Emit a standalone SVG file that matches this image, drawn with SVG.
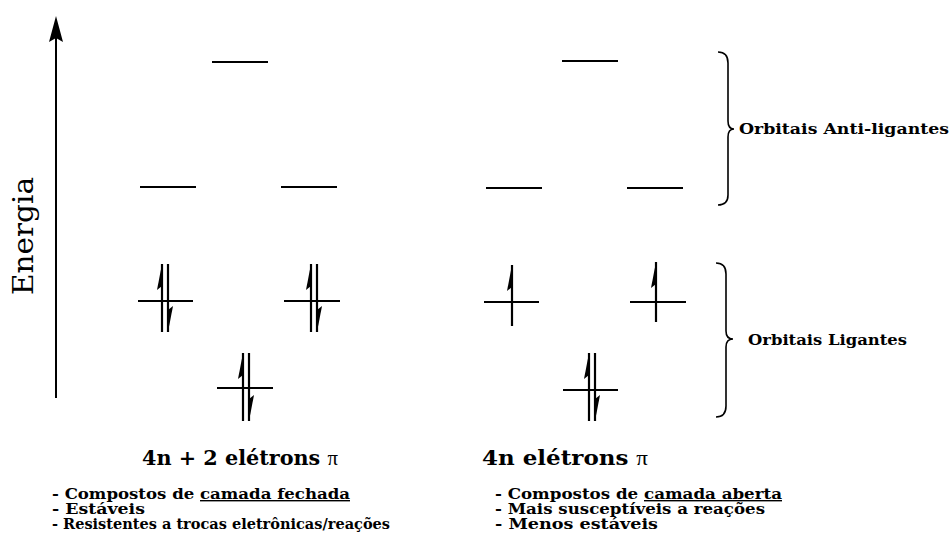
<svg xmlns="http://www.w3.org/2000/svg" width="951" height="543" viewBox="0 0 951 543">
<style>
.lvl{stroke:#000;stroke-width:2;fill:none}
.e{stroke:#000;stroke-width:2.2;fill:none}
.barb{fill:#000;stroke:none}
.brace{stroke:#000;stroke-width:1.6;fill:none}
.axis{stroke:#000;stroke-width:2;fill:none}
.lbl{font-family:"DejaVu Serif","Liberation Serif",serif;font-weight:bold;fill:#000}
.hdr{font-family:"DejaVu Serif","Liberation Serif",serif;font-weight:bold;font-size:20px;fill:#000}
.pi{font-family:"Liberation Serif",serif;font-weight:normal}
.bul{font-family:"DejaVu Serif","Liberation Serif",serif;font-weight:bold;font-size:14px;fill:#000}
.u{text-decoration:underline}
</style>
<defs>
<marker id="arr" markerWidth="28" markerHeight="16" refX="24" refY="8" orient="auto" markerUnits="userSpaceOnUse" viewBox="0 0 28 16">
<path d="M28,8 L2,1 L6,8 L2,15 Z" fill="#000"/>
</marker>
<path id="up" d="M0,0 L-5,26 L0,22 Z"/>
<path id="dn" d="M0,0 L5,-26 L0,-22 Z"/>
</defs>

<g id="axis">
<line class="axis" x1="56" y1="398" x2="56" y2="20" marker-end="url(#arr)"/>
<text transform="translate(33,236) rotate(-90)" text-anchor="middle" font-family="DejaVu Serif, Liberation Serif, serif" font-size="27" textLength="118" lengthAdjust="spacingAndGlyphs">Energia</text>
</g>

<g id="left-antibonding">
<line class="lvl" x1="212" y1="62" x2="268" y2="62"/>
<line class="lvl" x1="140" y1="187" x2="196" y2="187"/>
<line class="lvl" x1="281" y1="187" x2="337" y2="187"/>
</g>

<g id="left-bonding-1">
<line class="lvl" x1="138" y1="301" x2="193" y2="301"/>
<line class="e" x1="162" y1="264" x2="162" y2="332"/>
<line class="e" x1="168" y1="264" x2="168" y2="332"/>
<use href="#up" class="barb" x="162" y="264"/>
<use href="#dn" class="barb" x="168" y="332"/>
</g>
<g id="left-bonding-2">
<line class="lvl" x1="284" y1="301" x2="340" y2="301"/>
<line class="e" x1="311" y1="264" x2="311" y2="332"/>
<line class="e" x1="317" y1="264" x2="317" y2="332"/>
<use href="#up" class="barb" x="311" y="264"/>
<use href="#dn" class="barb" x="317" y="332"/>
</g>
<g id="left-bonding-3">
<line class="lvl" x1="217" y1="388" x2="273" y2="388"/>
<line class="e" x1="243" y1="353" x2="243" y2="421"/>
<line class="e" x1="249" y1="353" x2="249" y2="421"/>
<use href="#up" class="barb" x="243" y="353"/>
<use href="#dn" class="barb" x="249" y="421"/>
</g>

<g id="right-antibonding">
<line class="lvl" x1="562" y1="61" x2="618" y2="61"/>
<line class="lvl" x1="486" y1="188" x2="542" y2="188"/>
<line class="lvl" x1="627" y1="188" x2="683" y2="188"/>
</g>

<g id="right-bonding-1">
<line class="lvl" x1="484" y1="302" x2="539" y2="302"/>
<line class="e" x1="512" y1="265" x2="512" y2="326"/>
<use href="#up" class="barb" x="512" y="265"/>
</g>
<g id="right-bonding-2">
<line class="lvl" x1="630" y1="302" x2="686" y2="302"/>
<line class="e" x1="656" y1="262" x2="656" y2="322"/>
<use href="#up" class="barb" x="656" y="262"/>
</g>
<g id="right-bonding-3">
<line class="lvl" x1="563" y1="390" x2="618" y2="390"/>
<line class="e" x1="589" y1="353" x2="589" y2="421"/>
<line class="e" x1="595" y1="353" x2="595" y2="421"/>
<use href="#up" class="barb" x="589" y="353"/>
<use href="#dn" class="barb" x="595" y="421"/>
</g>

<g id="brace-antibonding">
<path class="brace" d="M718,52 Q728,52 728,63 L728,121 Q728,129 734,129 Q728,129 728,137 L728,195 Q728,205 718,205"/>
<text class="lbl" x="739" y="134" font-size="15" textLength="210" lengthAdjust="spacingAndGlyphs">Orbitais Anti-ligantes</text>
</g>
<g id="brace-bonding">
<path class="brace" d="M716,263 Q726,263 726,274 L726,331 Q726,339 733,339 Q726,339 726,347 L726,406 Q726,417 716,417"/>
<text class="lbl" x="748" y="345" font-size="15" textLength="159" lengthAdjust="spacingAndGlyphs">Orbitais Ligantes</text>
</g>

<g id="header-left">
<text class="hdr" x="142" y="465" textLength="196" lengthAdjust="spacingAndGlyphs">4n + 2 elétrons <tspan class="pi">π</tspan></text>
</g>
<g id="header-right">
<text class="hdr" x="482" y="465" textLength="166" lengthAdjust="spacingAndGlyphs">4n elétrons <tspan class="pi">π</tspan></text>
</g>

<g id="notes-left">
<text class="bul" x="52" y="499" textLength="298" lengthAdjust="spacingAndGlyphs">- Compostos de <tspan class="u">camada fechada</tspan></text>
<text class="bul" x="52" y="514" textLength="93" lengthAdjust="spacingAndGlyphs">- Estáveis</text>
<text class="bul" x="52" y="529" textLength="338" lengthAdjust="spacingAndGlyphs">- Resistentes a trocas eletrônicas/reações</text>
</g>
<g id="notes-right">
<text class="bul" x="495" y="499" textLength="287" lengthAdjust="spacingAndGlyphs">- Compostos de <tspan class="u">camada aberta</tspan></text>
<text class="bul" x="495" y="514" textLength="270" lengthAdjust="spacingAndGlyphs">- Mais susceptíveis a reações</text>
<text class="bul" x="495" y="529" textLength="163" lengthAdjust="spacingAndGlyphs">- Menos estáveis</text>
</g>
</svg>
